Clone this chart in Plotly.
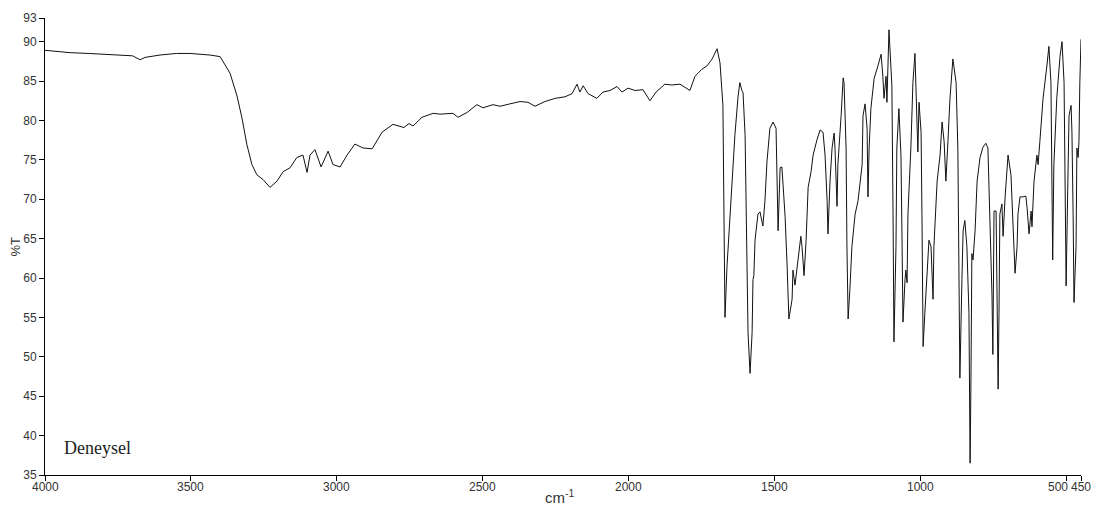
import plotly.graph_objects as go

# IR spectrum (experimental), transmittance vs wavenumber
wavenumber = [
    4000, 3914, 3850, 3812, 3743, 3700, 3674, 3657, 3606, 3550, 3503, 3469,
    3435, 3400, 3366, 3342, 3325, 3308, 3291, 3274, 3253, 3229, 3205, 3184,
    3160, 3137, 3116, 3102, 3092, 3075, 3054, 3030, 3013, 2989, 2965, 2938,
    2910, 2879, 2845, 2808, 2770, 2753, 2739, 2708, 2670, 2646, 2602, 2585,
    2554, 2520, 2499, 2465, 2441, 2407, 2372, 2345, 2321, 2287, 2252, 2218,
    2194, 2177, 2167, 2156, 2139, 2109, 2088, 2064, 2040, 2023, 2002, 1978,
    1951, 1927, 1906, 1876, 1852, 1824, 1790, 1773, 1749, 1732, 1714, 1697,
    1687, 1677, 1673, 1670, 1663, 1646, 1636, 1625, 1619, 1612, 1608, 1601,
    1595, 1591, 1584, 1577, 1574, 1571, 1567, 1557, 1550, 1540, 1533, 1526,
    1516, 1505, 1495, 1492, 1488, 1481, 1475, 1471, 1464, 1457, 1454, 1451,
    1440, 1437, 1430, 1423, 1416, 1410, 1406, 1399, 1392, 1385, 1375, 1368,
    1355, 1344, 1334, 1327, 1320, 1317, 1310, 1303, 1296, 1293, 1286, 1283,
    1272, 1265, 1262, 1255, 1252, 1248, 1242, 1235, 1224, 1214, 1200, 1197,
    1190, 1183, 1180, 1176, 1170, 1159, 1146, 1135, 1129, 1125, 1118, 1115,
    1108, 1098, 1094, 1091, 1084, 1081, 1074, 1067, 1063, 1060, 1053, 1050,
    1046, 1043, 1033, 1026, 1019, 1012, 1009, 1005, 998, 995, 991, 985,
    978, 971, 964, 957, 954, 943, 933, 926, 919, 913, 906, 899,
    889, 878, 872, 868, 865, 858, 854, 848, 841, 834, 830, 827,
    824, 820, 813, 806, 796, 786, 776, 769, 762, 755, 752, 748,
    741, 738, 734, 731, 728, 721, 717, 710, 704, 700, 690, 683,
    676, 669, 666, 659, 649, 639, 635, 628, 621, 618, 611, 601,
    597, 591, 580, 567, 560, 553, 549, 547, 543, 533, 522, 515,
    508, 505, 501, 495, 491, 484, 481, 477, 474, 467, 464, 460,
    457, 454, 450,
]

transmittance = [
    88.9, 88.6, 88.5, 88.4, 88.3, 88.2, 87.7, 88.0, 88.3, 88.5, 88.5, 88.4,
    88.3, 88.1, 86.0, 83.1, 80.3, 76.9, 74.4, 73.1, 72.5, 71.5, 72.3, 73.5,
    74.0, 75.3, 75.6, 73.4, 75.6, 76.3, 74.1, 76.1, 74.4, 74.1, 75.6, 77.0,
    76.5, 76.4, 78.5, 79.5, 79.1, 79.6, 79.3, 80.4, 80.9, 80.8, 80.9, 80.4,
    81.0, 82.0, 81.6, 82.0, 81.8, 82.1, 82.4, 82.3, 81.8, 82.4, 82.8, 83.0,
    83.4, 84.6, 83.6, 84.4, 83.4, 82.8, 83.6, 83.8, 84.3, 83.6, 84.1, 83.8,
    83.9, 82.5, 83.6, 84.6, 84.5, 84.6, 83.8, 85.6, 86.5, 86.9, 87.8, 89.1,
    87.3, 81.9, 65.3, 55.0, 61.5, 71.9, 78.1, 83.1, 84.8, 83.8, 83.5, 78.1,
    65.6, 53.1, 47.9, 53.1, 59.8, 60.3, 64.8, 68.1, 68.4, 66.6, 69.8, 74.8,
    79.0, 79.8, 79.0, 74.8, 66.0, 74.0, 74.1, 71.9, 67.8, 61.5, 56.0, 54.8,
    57.3, 61.0, 59.1, 61.5, 64.1, 65.3, 64.0, 60.3, 64.8, 71.5, 73.5, 75.6,
    77.5, 78.8, 78.5, 75.6, 69.8, 65.6, 72.3, 76.5, 78.4, 76.5, 69.1, 74.4,
    80.6, 85.4, 84.8, 76.5, 64.0, 54.8, 58.5, 64.0, 68.1, 69.8, 74.4, 80.6,
    82.1, 79.0, 70.3, 76.5, 81.5, 85.3, 86.9, 88.4, 85.6, 82.8, 85.6, 82.3,
    91.5, 84.4, 68.1, 51.9, 64.0, 76.5, 81.5, 75.6, 64.0, 54.4, 59.8, 61.0,
    59.4, 68.1, 76.5, 84.8, 88.5, 80.6, 76.0, 82.3, 78.5, 68.1, 51.3, 55.6,
    59.8, 64.8, 64.0, 57.3, 64.0, 72.3, 75.6, 79.8, 77.3, 72.3, 77.3, 82.8,
    87.8, 84.8, 76.5, 64.0, 47.3, 59.8, 66.0, 67.3, 64.0, 55.6, 36.5, 47.3,
    63.1, 62.3, 66.0, 72.3, 75.3, 76.6, 77.1, 76.5, 68.1, 57.8, 50.3, 68.5,
    68.5, 55.6, 45.9, 55.6, 68.1, 69.4, 65.3, 70.3, 74.4, 75.6, 73.1, 66.0,
    60.6, 64.0, 68.1, 70.3, 70.3, 70.4, 69.0, 65.6, 68.5, 66.5, 72.3, 75.6,
    74.4, 77.3, 82.8, 86.9, 89.4, 84.8, 72.3, 62.3, 74.4, 82.8, 88.1, 90.0,
    84.8, 72.3, 59.0, 72.3, 80.6, 81.9, 78.5, 68.1, 56.9, 64.0, 76.5, 75.3,
    77.3, 84.8, 90.3,
]

x_ticks = [4000, 3500, 3000, 2500, 2000, 1500, 1000, 500, 450]
y_ticks = [35, 40, 45, 50, 55, 60, 65, 70, 75, 80, 85, 90, 93]
sample_label = "Deneysel"

fig = go.Figure()
fig.add_trace(go.Scatter(
    x=wavenumber, y=transmittance, mode="lines",
    line=dict(color="#111111", width=1),
    hoverinfo="skip", showlegend=False,
))

label_font = dict(family="Liberation Sans, Arial, sans-serif", size=12, color="#333333")

# x tick marks come from the axis; the labels are placed separately so that
# the crowded 500 / 450 pair can sit side by side without rotation
fig.update_xaxes(
    range=[4000, 450], tickvals=x_ticks, showticklabels=False,
    showline=True, linecolor="black", linewidth=1, mirror=False,
    ticks="outside", ticklen=5, tickcolor="black",
    showgrid=False, zeroline=False,
)
for v in x_ticks:
    fig.add_annotation(
        x=v, y=0, xref="x", yref="paper", text=str(v), showarrow=False,
        xanchor="center", yanchor="top", yshift=-3,
        xshift=-8 if v == 500 else 0,
        font=label_font,
    )

fig.update_yaxes(
    range=[35, 93], tickvals=y_ticks, ticktext=[str(v) for v in y_ticks],
    showline=True, linecolor="black", linewidth=1, mirror=False,
    ticks="outside", ticklen=5, tickcolor="black", tickfont=label_font,
    showgrid=False, zeroline=False,
)

fig.add_annotation(
    x=-0.028, y=0.5, xref="paper", yref="paper", text="%T",
    textangle=-90, showarrow=False, xanchor="center", yanchor="middle",
    font=dict(family="Liberation Sans, Arial, sans-serif", size=13, color="#333333"),
)
fig.add_annotation(
    x=0.497, y=-0.047, xref="paper", yref="paper", text="cm<sup>-1</sup>",
    showarrow=False, xanchor="center", yanchor="middle",
    font=dict(family="Liberation Sans, Arial, sans-serif", size=15, color="#333333"),
)
fig.add_annotation(
    x=0.0164, y=0.06, xref="paper", yref="paper", text=sample_label,
    xanchor="left", yanchor="middle", showarrow=False,
    font=dict(family="Liberation Serif, Times New Roman, serif", size=18, color="#222222"),
)

fig.update_layout(
    width=1101, height=508,
    margin=dict(l=45, r=20, t=11, b=33),
    paper_bgcolor="white", plot_bgcolor="white",
)

fig.write_html("out.html")
